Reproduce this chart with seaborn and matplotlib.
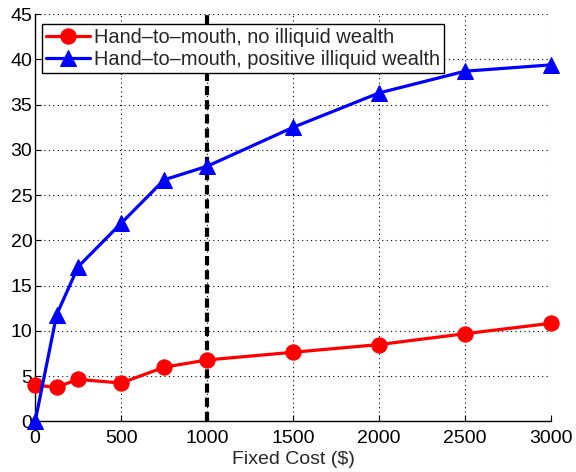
import pandas as pd
import numpy as np
import matplotlib
matplotlib.use("Agg")
import matplotlib.pyplot as plt
import seaborn as sns

# data
fixed_cost = [0, 125, 250, 500, 750, 1000, 1500, 2000, 2500, 3000]
htm_no_illiquid = [4.0, 3.8, 4.65, 4.25, 6.0, 6.8, 7.65, 8.5, 9.7, 10.85]
htm_pos_illiquid = [0.0, 11.8, 17.1, 21.9, 26.7, 28.2, 32.5, 36.3, 38.7, 39.4]
label_no = "Hand\u2013to\u2013mouth, no illiquid wealth"
label_pos = "Hand\u2013to\u2013mouth, positive illiquid wealth"
baseline_cost = 1000

sns.set_style("white")
plt.rcParams['font.family'] = ['Liberation Sans', 'DejaVu Sans']

df = pd.DataFrame({'cost': fixed_cost, 'no': htm_no_illiquid, 'pos': htm_pos_illiquid})

fig = plt.figure(figsize=(5.76, 4.72), dpi=100)
ax = fig.add_axes([0.061, 0.107, 0.896, 0.863])

ax.axvline(baseline_cost, color='black', lw=3, ls=(0, (2.2, 1.2)), zorder=2)

sns.lineplot(data=df, x='cost', y='no', ax=ax, color='#ff0000', lw=2.3,
             marker='o', markersize=11, markeredgecolor='#ff0000',
             label=label_no, clip_on=False, zorder=4)
sns.lineplot(data=df, x='cost', y='pos', ax=ax, color='#0000ff', lw=2.3,
             marker='^', markersize=12, markeredgecolor='#0000ff',
             label=label_pos, clip_on=False, zorder=5)

ax.set_xlim(0, 3000)
ax.set_ylim(0, 45)
ax.set_xticks(np.arange(0, 3001, 500))
ax.set_yticks(np.arange(0, 46, 5))
ax.grid(True, color='black', ls=(0, (1, 3)), lw=0.8)
ax.set_axisbelow(True)
for s in ['top', 'right']:
    ax.spines[s].set_visible(False)
for s in ['left', 'bottom']:
    ax.spines[s].set_color('black')
    ax.spines[s].set_linewidth(1.0)
ax.tick_params(direction='in', length=4, width=0.8, labelsize=14, colors='black',
               bottom=True, left=True)
ax.tick_params(axis='x', pad=6)
ax.tick_params(axis='y', pad=2)
ax.set_xlabel('Fixed Cost (\\$)', fontsize=14, labelpad=3)
ax.set_ylabel('')

leg = ax.legend(loc='upper left', bbox_to_anchor=(0.005, 0.985), fontsize=14.4,
                frameon=True, fancybox=False, edgecolor='black', framealpha=1,
                borderpad=0.2, handlelength=2.2, handletextpad=0.2, labelspacing=0.15,
                borderaxespad=0.2)
leg.get_frame().set_linewidth(1.0)

plt.savefig('out.png', dpi=100)
